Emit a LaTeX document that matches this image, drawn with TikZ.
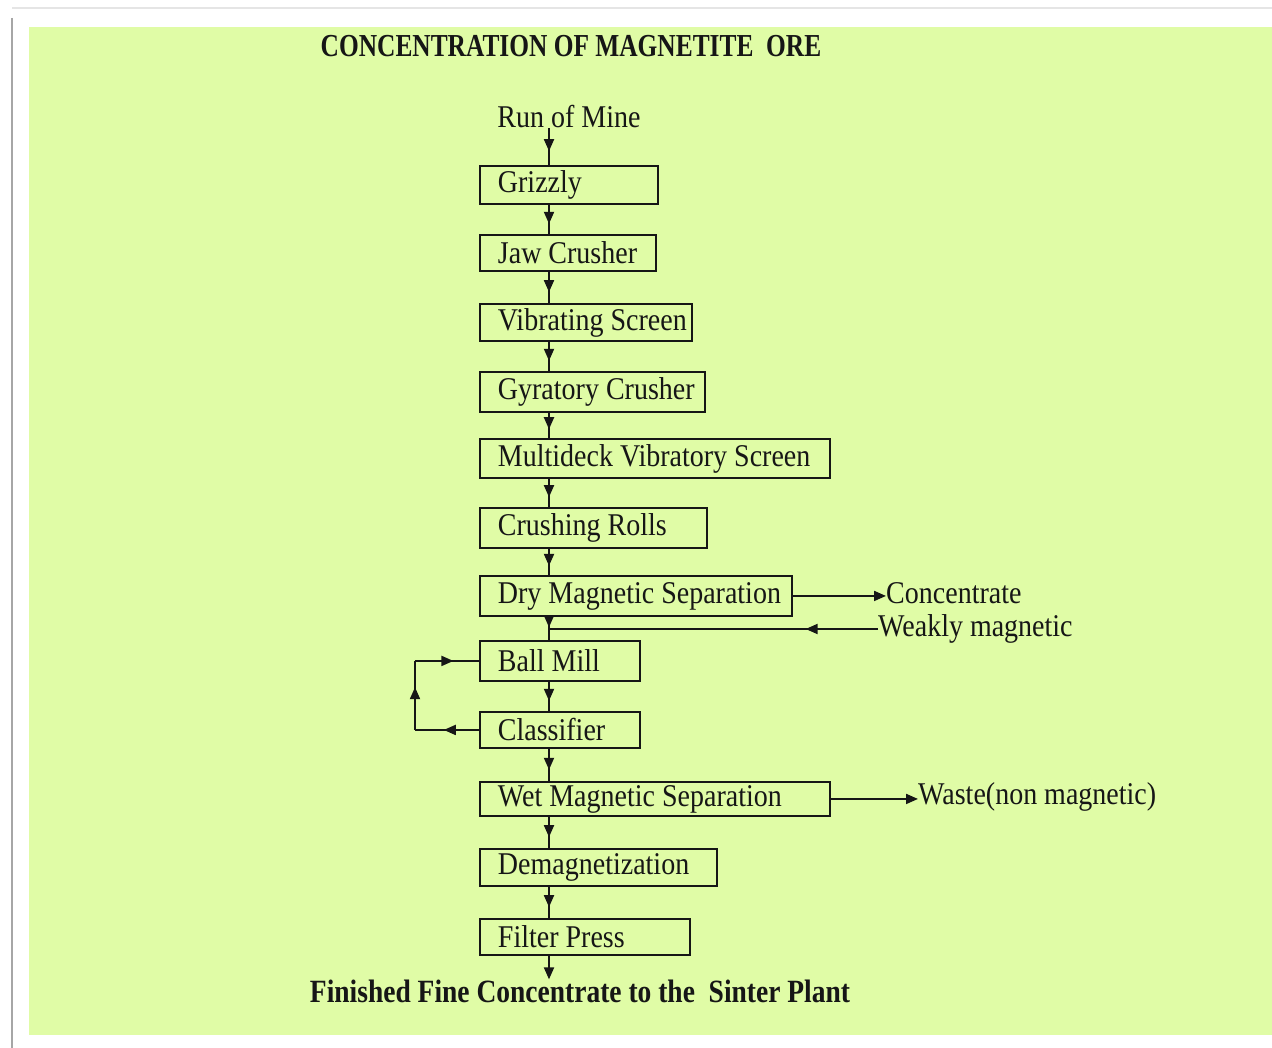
\documentclass[tikz,border=0pt]{standalone}
\usepackage{fontspec}
\setmainfont{Liberation Serif}
\usetikzlibrary{arrows.meta,decorations.markings}
\definecolor{paper}{RGB}{224,252,166}
\definecolor{ink}{RGB}{22,22,22}
% text stretched vertically, as in the printed flow sheet
\newcommand\tallt[2][1.13]{\scalebox{1}[#1]{#2}}
% \stage{name}{left}{top}{width}{height}{label}
\newcommand\stage[6]{%
  \node[box, minimum width=#4pt, minimum height=#5pt] (#1) at (#2,#3)
    {\makebox[\dimexpr#4pt-36pt\relax][l]{\tallt{#6}}};}

\begin{document}
\begin{tikzpicture}[x=1pt,y=-1pt,
  box/.style={draw=ink, line width=1.9pt, anchor=north west, inner xsep=18pt,
    inner ysep=0pt, text=ink, font=\fontsize{28}{30}\selectfont},
  lbl/.style={text=ink, inner sep=0pt, font=\fontsize{28}{30}\selectfont},
  link/.style={draw=ink, line width=1.9pt},
  tip/.style={},
  midarrow/.style={link, postaction={decorate}, decoration={markings,
    mark=at position #1 with {\arrow{Triangle[length=12pt,width=10pt]}}}},
  midarrow/.default=0.65,
  endarrow/.style={link, -{Triangle[length=12pt,width=10pt]}}]

% page, shadow edge and coloured panel
\useasboundingbox (0,0) rectangle (1272,1048);
\fill[white] (0,0) rectangle (1272,1048);
\draw[black!35, line width=2pt] (12,18) -- (12,1048);
\draw[black!10, line width=1.5pt] (12,8) -- (1272,8);
\fill[paper] (29,27) rectangle (1272,1035);

% headings
\node[lbl, font=\bfseries\fontsize{25.4}{28}\selectfont] (title) at (571,46)
  {\tallt[1.26]{CONCENTRATION OF MAGNETITE\ \ ORE}};
\node[lbl] (rom) at (569,117) {\tallt{Run of Mine}};
\node[lbl, font=\bfseries\fontsize{27.5}{30}\selectfont] (fin) at (580,991)
  {\tallt[1.18]{Finished Fine Concentrate to the\ \ Sinter Plant}};

% main line of stages
\stage{griz}{479}{165}{178}{38}{Grizzly}
\stage{jaw}{479}{234}{176}{36}{Jaw Crusher}
\stage{vib}{479}{303}{212}{37}{Vibrating Screen}
\stage{gyr}{479}{371}{225}{40}{Gyratory Crusher}
\stage{multi}{479}{438}{350}{39}{Multideck Vibratory Screen}
\stage{rolls}{479}{507}{227}{40}{Crushing Rolls}
\stage{dry}{479}{575}{312}{40}{Dry Magnetic Separation}
\stage{ball}{479}{640}{160}{40}{Ball Mill}
\stage{cls}{479}{711}{160}{36}{Classifier}
\stage{wet}{479}{781}{350}{34}{Wet Magnetic Separation}
\stage{demag}{479}{848}{237}{37}{Demagnetization}
\stage{filt}{479}{918}{210}{36}{Filter Press}

% side products
\node[lbl, anchor=west] (conc) at (886,593) {\tallt{Concentrate}};
\node[lbl, anchor=west] (weak) at (878,629) {\tallt{Weakly magnetic}};
\node[lbl, anchor=west] (waste) at (918,797) {\tallt{Waste(non magnetic)}};

% flow spine and loop column
\coordinate (spine) at (549,0);
\coordinate (loopx) at (415,0);

\draw[midarrow=0.62] (rom.south -| spine) -- (griz.north -| spine);
\draw[midarrow] (griz.south -| spine) -- (jaw.north -| spine);
\draw[midarrow] (jaw.south -| spine) -- (vib.north -| spine);
\draw[midarrow] (vib.south -| spine) -- (gyr.north -| spine);
\draw[midarrow] (gyr.south -| spine) -- (multi.north -| spine);
\draw[midarrow] (multi.south -| spine) -- (rolls.north -| spine);
\draw[midarrow] (rolls.south -| spine) -- (dry.north -| spine);
\draw[midarrow=0.45] (dry.south -| spine) -- (ball.north -| spine);
\draw[midarrow] (ball.south -| spine) -- (cls.north -| spine);
\draw[midarrow] (cls.south -| spine) -- (wet.north -| spine);
\draw[midarrow] (wet.south -| spine) -- (demag.north -| spine);
\draw[midarrow] (demag.south -| spine) -- (filt.north -| spine);
\draw[endarrow] (filt.south -| spine) -- (fin.north -| spine);

% outputs and return streams
\draw[endarrow] (dry.east) -- (dry.east -| conc.west);
\draw[midarrow=0.22] (weak.west) -- (weak.west -| spine);
\draw[endarrow] (wet.east) -- (wet.east -| waste.west);

% classifier oversize back to the ball mill
\draw[midarrow=0.55] (cls.west) -- (cls.west -| loopx);
\draw[midarrow=0.62] (cls.west -| loopx) -- (ball.west -| loopx);
\draw[midarrow=0.6] (ball.west -| loopx) -- (ball.west);
\end{tikzpicture}
\end{document}
